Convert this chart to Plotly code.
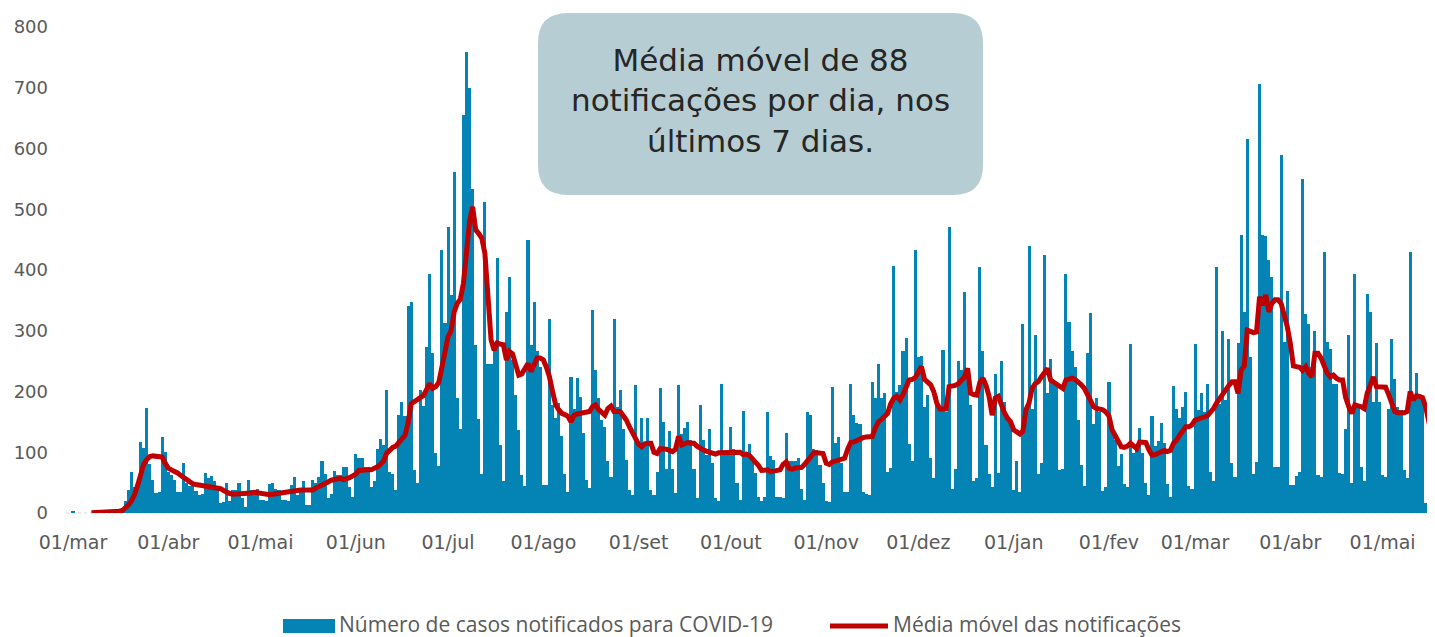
import pandas as pd
import plotly.graph_objects as go

start_date = "2020-03-01"

# daily notified cases, one row per week starting on Sunday
cases = [
    3, 0, 0, 0, 0, 0, 0,
    0, 0, 1, 0, 2, 1, 3,
    2, 4, 8, 19, 38, 68, 43,
    45, 117, 107, 173, 80, 55, 33,
    35, 125, 100, 68, 62, 55, 35,
    35, 83, 50, 45, 45, 37, 30,
    32, 66, 57, 61, 52, 45, 16,
    18, 49, 20, 38, 38, 50, 24,
    10, 55, 38, 35, 40, 21, 21,
    20, 48, 50, 40, 38, 22, 21,
    20, 46, 60, 30, 38, 52, 13,
    13, 55, 49, 60, 85, 65, 24,
    32, 69, 63, 63, 76, 76, 43,
    27, 97, 90, 90, 76, 76, 43,
    52, 106, 121, 112, 202, 68, 65,
    38, 161, 183, 159, 340, 348, 71,
    49, 202, 176, 274, 394, 263, 98,
    77, 433, 312, 470, 359, 562, 189,
    139, 655, 759, 700, 533, 277, 154,
    64, 512, 246, 246, 282, 419, 112,
    52, 331, 389, 252, 194, 137, 63,
    45, 449, 277, 348, 266, 241, 46,
    46, 319, 178, 156, 181, 126, 65,
    35, 224, 172, 223, 191, 131, 54,
    41, 334, 236, 189, 153, 142, 86,
    60, 319, 175, 202, 138, 87, 38,
    30, 211, 115, 157, 110, 156, 38,
    29, 68, 205, 150, 72, 135, 72,
    33, 210, 130, 140, 149, 120, 72,
    25, 177, 120, 95, 138, 82, 25,
    20, 213, 100, 95, 142, 106, 49,
    21, 168, 94, 113, 90, 66, 27,
    19, 27, 167, 94, 87, 27, 26,
    24, 131, 85, 85, 85, 90, 39,
    21, 166, 161, 106, 104, 79, 49,
    20, 18, 207, 115, 125, 82, 35,
    35, 212, 161, 148, 147, 35, 32,
    30, 215, 189, 245, 189, 198, 68,
    74, 407, 200, 211, 267, 288, 114,
    85, 433, 257, 259, 174, 195, 90,
    57, 192, 168, 268, 167, 470, 39,
    72, 250, 236, 364, 235, 178, 52,
    57, 405, 267, 112, 65, 43, 228,
    66, 251, 183, 159, 145, 38, 85,
    35, 311, 172, 440, 172, 293, 65,
    82, 424, 197, 253, 219, 213, 70,
    72, 393, 314, 266, 240, 153, 79,
    44, 264, 329, 146, 189, 167, 37,
    43, 216, 134, 120, 77, 97, 48,
    43, 278, 98, 106, 140, 99, 49,
    30, 159, 110, 119, 148, 116, 48,
    27, 209, 172, 157, 175, 200, 44,
    39, 278, 170, 198, 167, 212, 67,
    52, 405, 180, 300, 186, 287, 82,
    60, 280, 457, 331, 616, 256, 65,
    84, 707, 458, 456, 416, 389, 75,
    75, 590, 282, 366, 46, 46, 61,
    68, 550, 328, 311, 241, 300, 63,
    59, 430, 282, 270, 213, 212, 66,
    64, 139, 293, 49, 393, 178, 76,
    52, 360, 331, 183, 280, 183, 63,
    60, 171, 286, 220, 175, 170, 70,
    57, 429, 194, 231, 191, 186, 17,
    12, 87, 161,
]

# 7-day moving average as drawn (red line)
moving_avg = [
    None, None, None, None, None, None, 0.4,
    0.5, 0.7, 1, 1.2, 1.5, 1.8, 2,
    2.5, 3, 4, 8, 13, 20, 30,
    45, 62, 80, 88, 93, 94, 94,
    93, 92, 82, 74, 71, 69, 66,
    62, 58, 54, 50, 48, 47, 46,
    46, 45, 44, 44, 43, 42, 40,
    37, 34, 32, 31, 31, 31, 32,
    32, 33, 33, 34, 33, 31, 30,
    29, 30, 31, 32, 33, 34, 34,
    35, 35, 36, 37, 38, 38, 38,
    38, 38, 41, 43, 46, 49, 51,
    54, 55, 56, 57, 55, 56, 58,
    61, 64, 70, 71, 71, 71, 71,
    73, 76, 80, 85, 98, 103, 108,
    110, 115, 122, 128, 148, 180, 184,
    187, 190, 193, 205, 213, 205, 208,
    215, 241, 265, 290, 300, 331, 345,
    352, 378, 438, 480, 504, 466, 460,
    452, 427, 362, 285, 268, 280, 278,
    277, 252, 266, 262, 245, 227, 229,
    238, 246, 233, 246, 255, 255, 252,
    240, 224, 200, 178, 170, 164, 162,
    159, 150, 161, 163, 164, 164, 164,
    167, 175, 178, 170, 165, 161, 172,
    176, 167, 167, 167, 160, 153, 142,
    132, 121, 113, 109, 114, 115, 115,
    100, 98, 106, 106, 105, 103, 101,
    105, 126, 112, 114, 116, 115, 115,
    110, 106, 104, 102, 100, 98, 97,
    99, 99, 99, 99, 100, 101, 101,
    100, 96, 97, 95, 90, 84, 78,
    70, 70, 71, 68, 69, 70, 71,
    80, 84, 73, 72, 74, 75, 75,
    80, 87, 95, 99, 99, 98, 98,
    82, 80, 84, 86, 87, 88, 90,
    105, 116, 117, 120, 123, 124, 125,
    126, 126, 140, 150, 154, 158, 164,
    180, 189, 192, 186, 195, 208, 219,
    220, 223, 232, 241, 220, 215, 211,
    200, 181, 171, 171, 171, 208, 208,
    210, 213, 218, 224, 238, 197, 195,
    194, 215, 222, 210, 192, 161, 189,
    192, 175, 165, 156, 150, 137, 133,
    130, 135, 170, 181, 205, 213, 216,
    224, 232, 238, 219, 216, 212, 208,
    205, 219, 220, 222, 220, 216, 211,
    205, 194, 182, 175, 172, 171, 170,
    166, 160, 137, 128, 115, 109, 108,
    110, 115, 110, 106, 117, 117, 116,
    104, 95, 96, 98, 100, 103, 101,
    103, 115, 120, 128, 135, 142, 142,
    145, 153, 154, 156, 158, 160, 165,
    172, 181, 189, 197, 205, 210, 216,
    216, 197, 235, 242, 301, 299, 297,
    298, 356, 342, 359, 331, 345, 351,
    351, 345, 329, 307, 279, 242, 241,
    240, 235, 241, 230, 224, 263, 263,
    255, 241, 230, 224, 227, 222, 219,
    219, 190, 175, 164, 178, 177, 175,
    172, 197, 210, 224, 208, 207, 207,
    207, 195, 178, 167, 165, 164, 165,
    167, 200, 186, 193, 192, 190, 175,
    150, 128, 120,
]

tick_dates = ["2020-03-01", "2020-04-01", "2020-05-01", "2020-06-01", "2020-07-01",
              "2020-08-01", "2020-09-01", "2020-10-01", "2020-11-01", "2020-12-01",
              "2021-01-01", "2021-02-01", "2021-03-01", "2021-04-01", "2021-05-01"]
tick_labels = ["01/mar", "01/abr", "01/mai", "01/jun", "01/jul", "01/ago", "01/set",
               "01/out", "01/nov", "01/dez", "01/jan", "01/fev", "01/mar", "01/abr", "01/mai"]

y_ticks = [0, 100, 200, 300, 400, 500, 600, 700, 800]

legend_bar = "Número de casos notificados para COVID-19"
legend_line = "Média móvel das notificações"
box_text = "Média móvel de 88<br>notificações por dia, nos<br>últimos 7 dias."

assert len(cases) == len(moving_avg), (len(cases), len(moving_avg))

dates = pd.date_range(start_date, periods=len(cases), freq="D")

BAR_COLOR = "#0484b5"
LINE_COLOR = "#c00000"
TEXT_GRAY = "#595959"

# the page body adds an 8px margin, so the figure is laid out in page pixels minus 8
OFF = 8
W, H = 1435 - OFF, 637 - OFF
L, T = 71 - OFF, 27 - OFF
BOTTOM = 513 - OFF
R, B = 0, H - BOTTOM
PW, PH = W - L - R, H - T - B


def X(px):  # page pixel -> paper x
    return (px - OFF - L) / PW


def Y(py):  # page pixel -> paper y
    return (BOTTOM - (py - OFF)) / PH


t0 = pd.Timestamp(start_date)
x_range = [t0 - pd.Timedelta(hours=0.65 * 24), t0 + pd.Timedelta(hours=443.06 * 24)]

fig = go.Figure()
fig.add_trace(go.Bar(x=dates, y=cases, marker=dict(color=BAR_COLOR, line=dict(width=0)),
                     name=legend_bar, showlegend=False))
fig.add_trace(go.Scatter(x=dates, y=moving_avg, mode="lines",
                         line=dict(color=LINE_COLOR, width=5), name=legend_line,
                         showlegend=False, connectgaps=False))

# rounded text box
x0, x1, y0, y1, r = 538, 983, 13, 195, 30
path = (f"M {X(x0 + r)},{Y(y0)} L {X(x1 - r)},{Y(y0)} Q {X(x1)},{Y(y0)} {X(x1)},{Y(y0 + r)} "
        f"L {X(x1)},{Y(y1 - r)} Q {X(x1)},{Y(y1)} {X(x1 - r)},{Y(y1)} "
        f"L {X(x0 + r)},{Y(y1)} Q {X(x0)},{Y(y1)} {X(x0)},{Y(y1 - r)} "
        f"L {X(x0)},{Y(y0 + r)} Q {X(x0)},{Y(y0)} {X(x0 + r)},{Y(y0)} Z")

shapes = [
    dict(type="path", path=path, xref="paper", yref="paper", fillcolor="#b6cdd3",
         line=dict(width=0), layer="above"),
    dict(type="line", xref="paper", yref="paper", x0=X(66), x1=1, y0=0, y1=0,
         line=dict(color="#d0d8dc", width=1, dash="dot"), layer="below"),
    # custom legend
    dict(type="rect", xref="paper", yref="paper", x0=X(283), x1=X(335), y0=Y(633), y1=Y(619),
         fillcolor=BAR_COLOR, line=dict(width=0)),
    dict(type="line", xref="paper", yref="paper", x0=X(830), x1=X(888), y0=Y(626), y1=Y(626),
         line=dict(color=LINE_COLOR, width=5)),
]

annotations = [
    dict(text=box_text, xref="paper", yref="paper", x=X((x0 + x1) / 2), y=Y(100),
         xanchor="center", yanchor="middle", showarrow=False, align="center",
         font=dict(family="DejaVu Sans", size=31, color="#262626")),
    dict(text=legend_bar, xref="paper", yref="paper", x=X(337), y=Y(624),
         xanchor="left", yanchor="middle", showarrow=False,
         font=dict(family="Open Sans", size=21, color=TEXT_GRAY)),
    dict(text=legend_line, xref="paper", yref="paper", x=X(891), y=Y(624),
         xanchor="left", yanchor="middle", showarrow=False,
         font=dict(family="Open Sans", size=21, color=TEXT_GRAY)),
]

fig.update_layout(
    width=W, height=H, autosize=False,
    margin=dict(l=L, r=R, t=T, b=B, pad=0),
    plot_bgcolor="white", paper_bgcolor="white",
    bargap=0.0, showlegend=False,
    shapes=shapes, annotations=annotations,
    font=dict(family="DejaVu Sans", color=TEXT_GRAY),
)
fig.update_xaxes(type="date", range=x_range, tickvals=tick_dates, ticktext=tick_labels,
                 showgrid=False, zeroline=False, showline=False, ticks="",
                 tickfont=dict(family="DejaVu Sans", size=19, color=TEXT_GRAY),
                 ticklabelstandoff=16)
fig.update_yaxes(range=[0, 800], tickvals=y_ticks, showgrid=False, zeroline=False,
                 showline=False, ticks="",
                 tickfont=dict(family="DejaVu Sans", size=18, color=TEXT_GRAY),
                 ticklabelstandoff=22)

fig.write_html("out.html")
